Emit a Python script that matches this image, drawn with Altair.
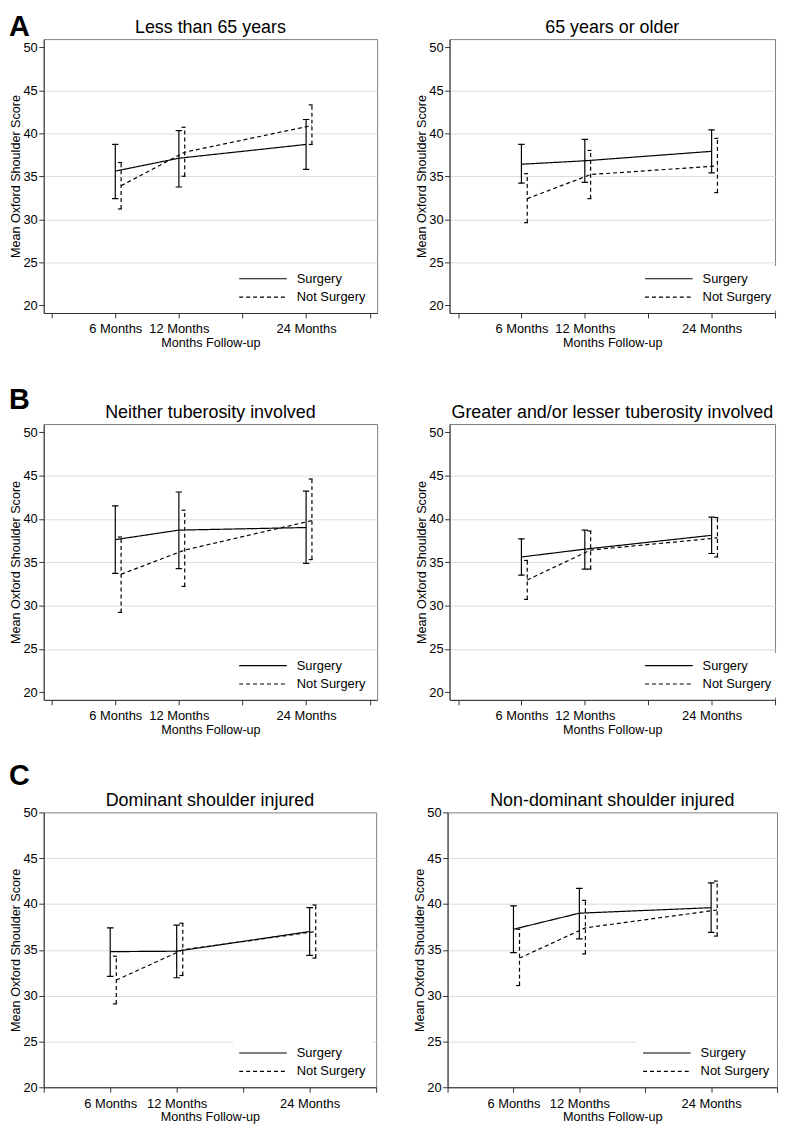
import altair as alt
import pandas as pd

FONT = "Liberation Sans"

# ---------------- data ----------------
months = [6, 12, 24]
groups = ["Surgery", "Not Surgery"]
tick_months = [0, 6, 12, 18, 24, 30]
tick_labels = ["", "6 Months", "12 Months", "", "24 Months", ""]
y_ticks = [20, 25, 30, 35, 40, 45, 50]
letters = ["A", "B", "C"]
titles = [
    "Less than 65 years", "65 years or older",
    "Neither tuberosity involved", "Greater and/or lesser tuberosity involved",
    "Dominant shoulder injured", "Non-dominant shoulder injured",
]

# Panel A, left: Less than 65 years
a1_s_mean = [35.6, 37.1, 38.7]
a1_s_lo = [32.4, 33.75, 35.8]
a1_s_hi = [38.7, 40.3, 41.6]
a1_n_mean = [33.9, 37.8, 40.9]
a1_n_lo = [31.2, 35.0, 38.7]
a1_n_hi = [36.6, 40.7, 43.3]

# Panel A, right: 65 years or older
a2_s_mean = [36.4, 36.8, 37.9]
a2_s_lo = [34.2, 34.3, 35.4]
a2_s_hi = [38.7, 39.3, 40.4]
a2_n_mean = [32.4, 35.2, 36.2]
a2_n_lo = [29.6, 32.4, 33.1]
a2_n_hi = [35.3, 38.0, 39.4]

# Panel B, left: Neither tuberosity involved
b1_s_mean = [37.6, 38.7, 39.0]
b1_s_lo = [33.7, 34.25, 34.85]
b1_s_hi = [41.5, 43.1, 43.2]
b1_n_mean = [33.6, 36.4, 39.8]
b1_n_lo = [29.2, 32.2, 35.3]
b1_n_hi = [37.9, 41.0, 44.6]

# Panel B, right: Greater and/or lesser tuberosity involved
b2_s_mean = [35.6, 36.5, 38.1]
b2_s_lo = [33.5, 34.2, 36.0]
b2_s_hi = [37.7, 38.7, 40.2]
b2_n_mean = [32.95, 36.4, 37.8]
b2_n_lo = [30.7, 34.2, 35.6]
b2_n_hi = [35.2, 38.6, 40.15]

# Panel C, left: Dominant shoulder injured
c1_s_mean = [34.8, 34.85, 37.0]
c1_s_lo = [32.1, 31.95, 34.4]
c1_s_hi = [37.4, 37.7, 39.6]
c1_n_mean = [31.7, 35.0, 37.0]
c1_n_lo = [29.1, 32.2, 34.1]
c1_n_hi = [34.3, 37.9, 39.9]

# Panel C, right: Non-dominant shoulder injured
c2_s_mean = [37.25, 39.0, 39.6]
c2_s_lo = [34.7, 36.2, 36.9]
c2_s_hi = [39.8, 41.7, 42.3]
c2_n_mean = [34.1, 37.4, 39.35]
c2_n_lo = [31.1, 34.55, 36.5]
c2_n_hi = [37.25, 40.4, 42.5]

# ---------------- helpers ----------------
label_expr = " : ".join(
    f"datum.value == {m} ? '{t}'" for m, t in zip(tick_months, tick_labels) if t
) + " : ''"

dash_scale = alt.Scale(domain=groups, range=[[1, 0], [4, 3]])


def make_panel(title, s_mean, s_lo, s_hi, n_mean, n_lo, n_hi,
               xdomain, ydomain, width, height, letter=None, letter_dy=0):
    df = pd.DataFrame({
        "month": months * 2,
        "group": [groups[0]] * 3 + [groups[1]] * 3,
        "mean": s_mean + n_mean,
        "lo": s_lo + n_lo,
        "hi": s_hi + n_hi,
    })

    xscale = alt.Scale(domain=xdomain, nice=False, zero=False)
    yscale = alt.Scale(domain=ydomain, nice=False, zero=False)
    xaxis = alt.Axis(values=tick_months, labelExpr=label_expr,
                     title="Months Follow-up", grid=False,
                     labelOverlap=False, labelFlush=False)
    yaxis = alt.Axis(values=y_ticks, title="Mean Oxford Shoulder Score",
                     grid=True, labelFlush=False, labelOverlap=False,
                     gridOpacity={"condition": {"test": "datum.value <= 20 || datum.value >= 50",
                                                "value": 0}, "value": 1})

    def X(field):
        return alt.X(field, scale=xscale, axis=xaxis)

    def Y(field):
        return alt.Y(field, scale=yscale, axis=yaxis)

    base = alt.Chart(df).transform_calculate(
        xm="datum.month + (datum.group == 'Not Surgery' ? 0.55 : 0)"
    )

    legend = alt.Legend(
        title=None, orient="none", legendX=191, legendY=height - 47.5,
        symbolType="M-4,0H4", symbolSize=144, symbolStrokeWidth=1.2,
        symbolStrokeColor="black", symbolOffset=17, labelOffset=27,
        rowPadding=4.5, padding=6, fillColor="white",
        labelFont=FONT, labelFontSize=13, labelColor="black",
    )

    lines = base.mark_line(color="black", strokeWidth=1.2).encode(
        x=X("xm:Q"), y=Y("mean:Q"),
        strokeDash=alt.StrokeDash("group:N", scale=dash_scale, legend=legend),
        order="xm:Q",
    )
    bars = base.mark_rule(color="black", strokeWidth=1.2).encode(
        x=X("xm:Q"), y=Y("lo:Q"), y2="hi:Q",
        strokeDash=alt.StrokeDash("group:N", scale=dash_scale, legend=None),
    )
    caps = base.transform_calculate(
        xa="datum.xm - 0.3", xb="datum.xm + 0.3"
    ).transform_fold(["lo", "hi"], as_=["end", "yv"]).mark_rule(
        color="black", strokeWidth=1.2
    ).encode(
        x=X("xa:Q"), x2="xb:Q", y=Y("yv:Q"),
        strokeDash=alt.StrokeDash("group:N", scale=dash_scale, legend=None),
    )
    ttl = alt.Chart(pd.DataFrame({"t": [title]})).mark_text(
        align="center", baseline="alphabetic", fontSize=18, font=FONT, color="black"
    ).encode(text="t:N", x=alt.value(width / 2), y=alt.value(-6))
    layers = [lines, bars, caps, ttl]
    if letter:
        lt = alt.Chart(pd.DataFrame({"t": [letter]})).mark_text(
            align="left", baseline="top", fontSize=29, fontWeight="bold",
            font=FONT, color="black"
        ).encode(text="t:N", x=alt.value(-35), y=alt.value(letter_dy))
        layers.append(lt)

    return alt.layer(*layers).properties(width=width, height=height)


def row(left, right, spacing):
    return alt.hconcat(left, right, spacing=spacing).resolve_scale(
        strokeDash="independent").resolve_legend(strokeDash="independent")


ab_left = [-0.75, 30.7]
ab_right = [-0.8, 30.0]
ab_y = [19.1, 50.95]

pA1 = make_panel(titles[0], a1_s_mean, a1_s_lo, a1_s_hi, a1_n_mean, a1_n_lo, a1_n_hi,
                 ab_left, ab_y, 336, 276, letters[0], -25.7)
pA2 = make_panel(titles[1], a2_s_mean, a2_s_lo, a2_s_hi, a2_n_mean, a2_n_lo, a2_n_hi,
                 ab_right, ab_y, 328, 276)
pB1 = make_panel(titles[2], b1_s_mean, b1_s_lo, b1_s_hi, b1_n_mean, b1_n_lo, b1_n_hi,
                 ab_left, ab_y, 336, 278, letters[1], -38)
pB2 = make_panel(titles[3], b2_s_mean, b2_s_lo, b2_s_hi, b2_n_mean, b2_n_lo, b2_n_hi,
                 ab_right, ab_y, 328, 278)
pC1 = make_panel(titles[4], c1_s_mean, c1_s_lo, c1_s_hi, c1_n_mean, c1_n_lo, c1_n_hi,
                 [0, 30], [20, 50], 335, 277, letters[2], -51)
pC2 = make_panel(titles[5], c2_s_mean, c2_s_lo, c2_s_hi, c2_n_mean, c2_n_lo, c2_n_hi,
                 [0, 30], [20, 50], 332, 277)

rowA = row(pA1, pA2, 37)
rowB = row(pB1, pB2, 37)
rowC = row(pC1, pC2, 36)

top = alt.vconcat(rowA, rowB, spacing=34.9).resolve_scale(
    strokeDash="independent").resolve_legend(strokeDash="independent")

chart = alt.vconcat(top, rowC, spacing=23.3).resolve_scale(
    strokeDash="independent").resolve_legend(strokeDash="independent").properties(
    padding=0
).configure_view(
    stroke="#7f7f7f", strokeWidth=1
).configure_axis(
    domainColor="#333333", tickColor="#333333", labelColor="black", titleColor="black",
    labelFont=FONT, titleFont=FONT, labelFontSize=13, titleFontSize=12.7,
    titleFontWeight="normal", tickSize=5, gridColor="#dcdcdc", gridWidth=1,
    domainWidth=1, tickWidth=1,
).configure_axisY(
    labelPadding=1.5, titlePadding=0
).configure_axisX(
    labelPadding=5, titlePadding=1
)

chart.save("out.html", embed_options={"renderer": "svg", "actions": False})
